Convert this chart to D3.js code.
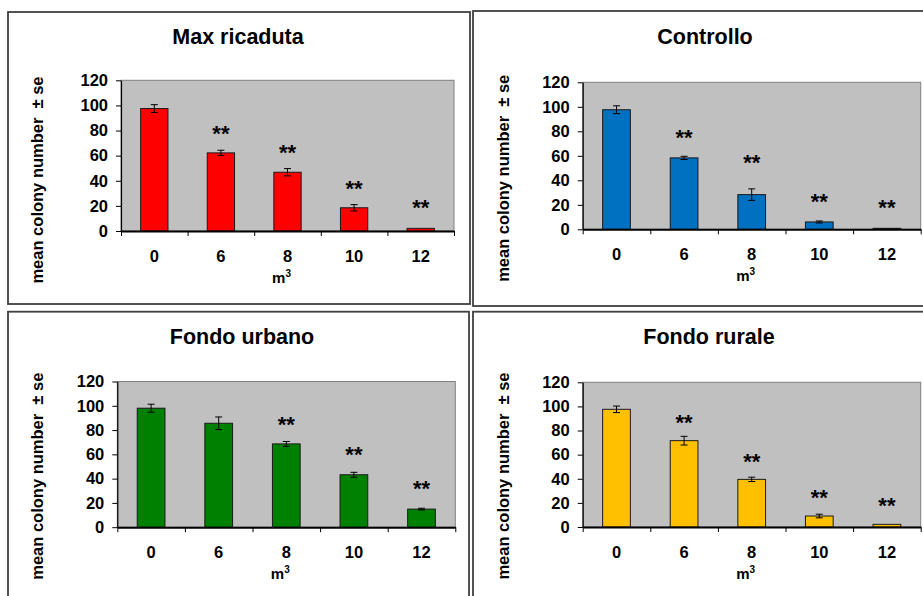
<!DOCTYPE html>
<html>
<head>
<meta charset="utf-8">
<script src="https://cdn.jsdelivr.net/npm/d3@7"></script>
<style>
  html, body { margin: 0; padding: 0; background: #ffffff; }
  svg { display: block; font-family: "Liberation Sans", Arial, sans-serif; }
  .ylab { white-space: pre; }
</style>
</head>
<body>
<svg id="chart" width="923" height="596"></svg>
<script>
// Exposure volume categories (m³) and shared y ticks
const categories = ["0", "6", "8", "10", "12"];
const yTicks = [0, 20, 40, 60, 80, 100, 120];
const panelTitles = ["Max ricaduta", "Controllo", "Fondo urbano", "Fondo rurale"];
const barColors = ["#FF0000", "#0070C0", "#008000", "#FFC000"];

// Mean colony number and standard error per site
const maxRicadutaMean = [97.5, 62.2, 46.8, 18.5, 2.1];
const maxRicadutaSe   = [3.1, 2.1, 2.9, 2.5, 0];
const controlloMean   = [97.6, 58.3, 28.3, 6.0, 0.8];
const controlloSe     = [3.2, 1.3, 4.7, 0.8, 0];
const fondoUrbanoMean = [98.0, 85.6, 68.6, 43.2, 14.9];
const fondoUrbanoSe   = [3.3, 5.2, 2.0, 2.0, 0.7];
const fondoRuraleMean = [97.6, 71.6, 39.5, 9.1, 2.2];
const fondoRuraleSe   = [2.7, 3.6, 1.8, 1.5, 0];

// Height (data units) of the "**" significance marks; null = not significant
const maxRicadutaSig = [null, 81, 66, 37, 22];
const controlloSig   = [null, 78, 58, 26, 21];
const fondoUrbanoSig = [null, null, 87.5, 63, 35];
const fondoRuraleSig = [null, 90, 57.5, 27.6, 21];

const means = [maxRicadutaMean, controlloMean, fondoUrbanoMean, fondoRuraleMean];
const ses   = [maxRicadutaSe, controlloSe, fondoUrbanoSe, fondoRuraleSe];
const sigs  = [maxRicadutaSig, controlloSig, fondoUrbanoSig, fondoRuraleSig];

// Panel geometry: outer frame, plot area, title and axis-title anchors
const layouts = [
  { frame: [8, 12, 462, 292],    plot: [121, 80.3, 333, 150.7],   titleX: 238, titleY: 37,  yTitleX: 37 },
  { frame: [473, 11, 462, 295],  plot: [582.7, 82.3, 338, 147],   titleX: 705, titleY: 37,  yTitleX: 503 },
  { frame: [8, 311.7, 461, 300], plot: [117.3, 381.5, 338, 145.7], titleX: 242, titleY: 337, yTitleX: 37 },
  { frame: [473, 311.7, 462, 300], plot: [582.7, 382.3, 338, 144.7], titleX: 709, titleY: 337, yTitleX: 503 }
];

const FONT = "'Liberation Sans', Arial, sans-serif";
const svg = d3.select("#chart");

layouts.forEach((L, p) => {
  const [fx, fy, fw, fh] = L.frame;
  const [px, py, pw, ph] = L.plot;

  // outer chart frame
  svg.append("rect")
    .attr("x", fx).attr("y", fy).attr("width", fw).attr("height", fh)
    .attr("fill", "#ffffff").attr("stroke", "#404040").attr("stroke-width", 1.8);

  const g = svg.append("g").attr("transform", `translate(${px},${py})`);

  const x = d3.scaleBand().domain(categories).range([0, pw]).padding(0);
  const xEdge = d3.scaleLinear().domain([0, categories.length]).range([0, pw]);
  const y = d3.scaleLinear().domain([0, 120]).range([ph, 0]);

  // plot background
  g.append("rect")
    .attr("x", 0).attr("y", 0).attr("width", pw).attr("height", ph)
    .attr("fill", "#C0C0C0").attr("stroke", "#808080").attr("stroke-width", 1);

  // bars
  const barW = x.bandwidth() * 0.41;
  const data = categories.map((c, i) => ({ c, m: means[p][i], se: ses[p][i], sig: sigs[p][i] }));

  g.selectAll("rect.bar").data(data).enter().append("rect")
    .attr("class", "bar")
    .attr("x", d => x(d.c) + (x.bandwidth() - barW) / 2)
    .attr("y", d => y(d.m))
    .attr("width", barW)
    .attr("height", d => y(0) - y(d.m))
    .attr("fill", barColors[p])
    .attr("stroke", "#1a1a1a").attr("stroke-width", 1);

  // error bars
  const eb = g.selectAll("g.err").data(data.filter(d => d.se > 0)).enter().append("g")
    .attr("class", "err")
    .attr("stroke", "#000").attr("stroke-width", 1);
  const cx = d => x(d.c) + x.bandwidth() / 2;
  eb.append("line").attr("x1", cx).attr("x2", cx)
    .attr("y1", d => y(d.m + d.se)).attr("y2", d => y(d.m - d.se));
  eb.append("line").attr("x1", d => cx(d) - 3.5).attr("x2", d => cx(d) + 3.5)
    .attr("y1", d => y(d.m + d.se)).attr("y2", d => y(d.m + d.se));
  eb.append("line").attr("x1", d => cx(d) - 3.5).attr("x2", d => cx(d) + 3.5)
    .attr("y1", d => y(d.m - d.se)).attr("y2", d => y(d.m - d.se));

  // significance marks
  g.selectAll("text.sig").data(data.filter(d => d.sig != null)).enter().append("text")
    .attr("class", "sig")
    .attr("x", cx)
    .attr("y", d => y(d.sig) + 11.5)
    .attr("text-anchor", "middle")
    .attr("font-size", 22).attr("font-weight", "bold").attr("fill", "#000")
    .text("**");

  // y axis
  const yAxis = g.append("g")
    .call(d3.axisLeft(y).tickValues(yTicks).tickSize(5).tickPadding(8).tickSizeOuter(0));
  yAxis.select(".domain").attr("stroke", "#000").attr("stroke-width", 1.2);
  yAxis.selectAll(".tick line").attr("stroke", "#000");
  yAxis.selectAll("text").attr("font-size", 16.5).attr("font-weight", "bold")
    .attr("fill", "#000").attr("font-family", FONT);

  // x axis: category boundary ticks
  const xTicks = g.append("g").attr("transform", `translate(0,${ph})`)
    .call(d3.axisBottom(xEdge).tickValues(d3.range(categories.length + 1)).tickSize(5).tickFormat("").tickSizeOuter(0));
  xTicks.select(".domain").attr("stroke", "#000").attr("stroke-width", 2);
  xTicks.selectAll(".tick line").attr("stroke", "#000");

  // x category labels
  const xLabels = g.append("g").attr("transform", `translate(0,${ph})`)
    .call(d3.axisBottom(x).tickSize(0).tickPadding(19));
  xLabels.select(".domain").remove();
  xLabels.selectAll("text").attr("font-size", 16.5).attr("font-weight", "bold")
    .attr("fill", "#000").attr("font-family", FONT);

  // x axis title m³
  const xt = g.append("text")
    .attr("x", pw / 2 - 6).attr("y", ph + 52)
    .attr("text-anchor", "middle")
    .attr("font-size", 15).attr("font-weight", "bold").attr("fill", "#000");
  xt.append("tspan").text("m");
  xt.append("tspan").attr("font-size", 10).attr("dy", -6).text("3");

  // y axis title
  svg.append("text")
    .attr("class", "ylab")
    .attr("transform", `translate(${L.yTitleX},${py + ph - 51}) rotate(-90)`)
    .attr("text-anchor", "middle")
    .attr("dominant-baseline", "central")
    .attr("font-size", 16.5).attr("font-weight", "bold").attr("fill", "#000")
    .text("mean colony number  ± se");

  // chart title
  svg.append("text")
    .attr("x", L.titleX).attr("y", L.titleY)
    .attr("text-anchor", "middle")
    .attr("dominant-baseline", "central")
    .attr("font-size", 21.5).attr("font-weight", "bold").attr("fill", "#000")
    .text(panelTitles[p]);
});
</script>
</body>
</html>
